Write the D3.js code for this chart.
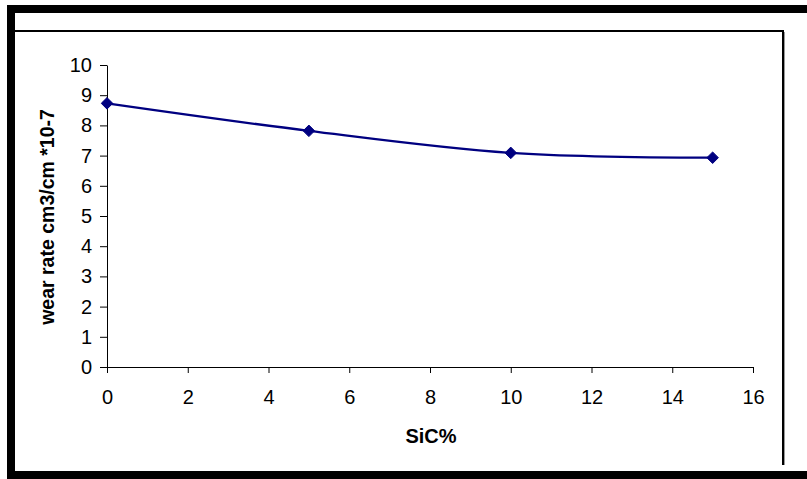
<!DOCTYPE html>
<html>
<head>
<meta charset="utf-8">
<script src="https://cdn.jsdelivr.net/npm/d3@7"></script>
<style>
  html, body { margin: 0; padding: 0; background: #fff; }
  svg { display: block; }
  text { font-family: "Liberation Sans", Arial, sans-serif; fill: #000; }
</style>
</head>
<body>
<svg id="chart" width="807" height="479"></svg>
<script>
// SiC content (%) and measured wear rate (cm3/cm x 10^-7)
const sicPercent = [0, 5, 10, 15];
const wearRate = [8.73, 7.82, 7.09, 6.93];
const xTicks = [0, 2, 4, 6, 8, 10, 12, 14, 16];
const yTicks = [0, 1, 2, 3, 4, 5, 6, 7, 8, 9, 10];
const xTitle = "SiC%";
const yTitle = "wear rate cm3/cm  *10-7";

const svg = d3.select("#chart");
const navy = "#000080";
const tickFont = 20;

// Outer heavy frame (extends past the right edge of the canvas)
svg.append("rect")
  .attr("x", 11).attr("y", 9)
  .attr("width", 900).attr("height", 466)
  .attr("fill", "none").attr("stroke", "#000").attr("stroke-width", 8);

// Inner chart-area border: top and right edges
svg.append("line")
  .attr("x1", 15).attr("x2", 784).attr("y1", 31).attr("y2", 31)
  .attr("stroke", "#000").attr("stroke-width", 2);
svg.append("line")
  .attr("x1", 783).attr("x2", 783).attr("y1", 30).attr("y2", 465)
  .attr("stroke", "#000").attr("stroke-width", 2);
svg.append("line")
  .attr("x1", 784.5).attr("x2", 784.5).attr("y1", 32).attr("y2", 465)
  .attr("stroke", "#999").attr("stroke-width", 1);

// Scales
const x = d3.scaleLinear().domain([0, 16]).range([107, 753]);
const y = d3.scaleLinear().domain([0, 10]).range([367, 65]);

// Y axis
const gy = svg.append("g")
  .attr("transform", `translate(${x(0)},0)`)
  .call(d3.axisLeft(y).tickValues(yTicks).tickFormat(d3.format("d"))
    .tickSizeInner(7).tickSizeOuter(0).tickPadding(8));
gy.select(".domain").attr("stroke", "#000").attr("stroke-width", 1);
gy.selectAll(".tick line").attr("stroke", "#000");
gy.selectAll(".tick text")
  .attr("font-size", tickFont).attr("font-family", "Liberation Sans, Arial, sans-serif")
  .attr("fill", "#000");

// X axis
const gx = svg.append("g")
  .attr("transform", `translate(0,${y(0)})`)
  .call(d3.axisBottom(x).tickValues(xTicks).tickFormat(d3.format("d"))
    .tickSizeInner(6).tickSizeOuter(0));
gx.select(".domain").attr("stroke", "#000").attr("stroke-width", 1);
gx.selectAll(".tick line").attr("stroke", "#000");
gx.selectAll(".tick text")
  .attr("font-size", tickFont).attr("font-family", "Liberation Sans, Arial, sans-serif")
  .attr("fill", "#000")
  .attr("y", 37).attr("dy", 0);

// Axis titles
svg.append("text")
  .attr("x", 431).attr("y", 443)
  .attr("text-anchor", "middle")
  .attr("font-size", 20).attr("font-weight", "bold")
  .text(xTitle);
svg.append("text")
  .attr("transform", "translate(54,217) rotate(-90)")
  .attr("text-anchor", "middle")
  .attr("font-size", 19.5).attr("font-weight", "bold")
  .text(yTitle);

// Data series: smoothed line with diamond markers
const pts = sicPercent.map((s, i) => [s, wearRate[i]]);
const line = d3.line()
  .x(d => x(d[0])).y(d => y(d[1]))
  .curve(d3.curveCatmullRom.alpha(0.5));
svg.append("path")
  .datum(pts)
  .attr("d", line)
  .attr("fill", "none")
  .attr("stroke", navy)
  .attr("stroke-width", 2.3);

const diamond = d3.symbol().type(d3.symbolDiamond2).size(85);
svg.selectAll(".marker")
  .data(pts)
  .join("path")
  .attr("class", "marker")
  .attr("transform", d => `translate(${x(d[0])},${y(d[1])})`)
  .attr("d", diamond)
  .attr("fill", navy)
  .attr("stroke", navy)
  .attr("stroke-width", 1);
</script>
</body>
</html>
